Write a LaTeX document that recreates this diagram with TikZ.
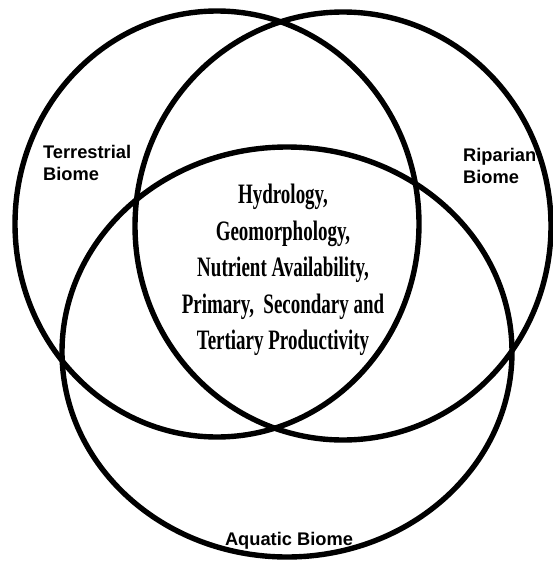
\documentclass[tikz,border=0pt]{standalone}
\usepackage{fontspec}
\newfontfamily\biomefont{Liberation Sans}
\newfontfamily\factorfont[FakeStretch=0.675]{Liberation Serif}
\usetikzlibrary{positioning}

\begin{document}
\begin{tikzpicture}[x=0.5mm, y=-0.5mm,
                    biome/.style={draw, line width=2.7mm},
                    biomename/.style={inner sep=0pt, align=left,
                        font=\biomefont\bfseries\fontsize{26}{31}\selectfont},
                    factors/.style={inner sep=0pt, align=center,
                        font=\factorfont\bfseries\fontsize{40}{52}\selectfont}]
    \useasboundingbox (0,0) rectangle (553,561);
    \draw[biome] (217,224) ellipse [x radius=202, y radius=213];
    \draw[biome] (343,226) ellipse [x radius=208, y radius=214];
    \draw[biome] (287,352) ellipse [x radius=225, y radius=205];
    \node[biomename, anchor=north west] (terrestrial) at (43,145) {Terrestrial\\Biome};
    \node[biomename, anchor=north west] (riparian) at (463,148) {Riparian\\Biome};
    \node[biomename, anchor=north] (aquatic) at (289,532) {Aquatic Biome};
    \node[factors, anchor=north] (shared) at (283,184)
        {Hydrology,\\Geomorphology,\\Nutrient Availability,\\Primary,\ \ Secondary and\\Tertiary Productivity};
\end{tikzpicture}
\end{document}
